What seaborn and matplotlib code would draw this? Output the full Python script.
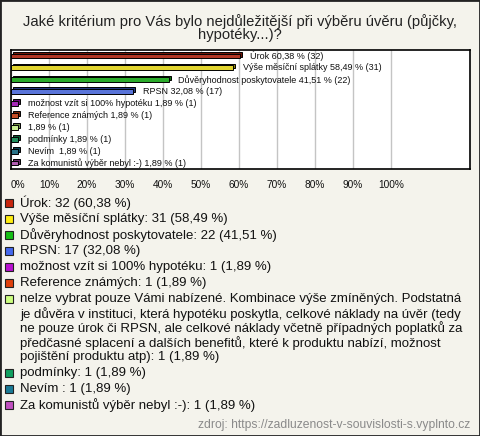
import numpy as np
import pandas as pd
import matplotlib
matplotlib.use("Agg")
import matplotlib.pyplot as plt
import matplotlib.patheffects as pe
from matplotlib.patches import Rectangle
from matplotlib.colors import to_rgb
import seaborn as sns

# ---------------- data ----------------
title_text = "Jaké kritérium pro Vás bylo nejdůležitější při výběru úvěru (půjčky,\nhypotéky...)?"
categories = [
    "Úrok",
    "Výše měsíční splátky",
    "Důvěryhodnost poskytovatele",
    "RPSN",
    "možnost vzít si 100% hypotéku",
    "Reference známých",
    "nelze vybrat pouze Vámi nabízené. Kombinace výše zmíněných. Podstatná je důvěra v instituci, která hypotéku poskytla, celkové náklady na úvěr (tedy ne pouze úrok či RPSN, ale celkové náklady včetně případných poplatků za předčasné splacení a dalších benefitů, které k produktu nabízí, možnost pojištění produktu atp)",
    "podmínky",
    "Nevím ",
    "Za komunistů výběr nebyl :-)",
]
counts = [32, 31, 22, 17, 1, 1, 1, 1, 1, 1]
percents = [60.38, 58.49, 41.51, 32.08, 1.89, 1.89, 1.89, 1.89, 1.89, 1.89]
bar_names = ["Úrok", "Výše měsíční splátky", "Důvěryhodnost poskytovatele", "RPSN",
             "možnost vzít si 100% hypotéku", "Reference známých", "",
             "podmínky", "Nevím ", "Za komunistů výběr nebyl :-)"]
colors = ["#c8260e", "#ffee11", "#16c016", "#4468ee", "#b810d0",
          "#e0400c", "#ccff80", "#10a060", "#1a7a96", "#c050c0"]
tick_values = list(range(0, 101, 10))
tick_labels = [f"{v}%" for v in tick_values]
source_text = "zdroj: https://zadluzenost-v-souvislosti-s.vyplnto.cz"


def fmt(v):
    return f"{v:.2f}".replace(".", ",")


df = pd.DataFrame({"category": categories, "percent": percents, "count": counts})

# ---------------- figure ----------------
W, H = 480, 436
BG = "#f4f3ec"
sns.set_theme(style="white")
plt.rcParams["font.family"] = ["Liberation Sans", "DejaVu Sans"]

fig = plt.figure(figsize=(W / 100, H / 100), dpi=100, facecolor=BG)


def fx(px):
    return px / W


def fy(py):
    return 1 - py / H


ax = fig.add_axes([fx(11), fy(169), fx(459), 119 / H])
ax.set_facecolor("white")

sns.barplot(data=df, x="percent", y="category", hue="category", palette=colors,
            orient="h", width=0.4, edgecolor="black", linewidth=0.7,
            legend=False, ax=ax, zorder=3)

# 3D-ish shadow effect on bars
for cont, col in zip(ax.containers, colors):
    r, g, b = to_rgb(col)
    dark = (r * 0.55, g * 0.55, b * 0.55)
    for p in cont:
        p.set_path_effects([
            pe.PathPatchEffect(offset=(1.3, 1.3), facecolor=dark, edgecolor="black", linewidth=0.7),
            pe.Normal(),
        ])

# bar labels
for cont, name, pct, cnt in zip(ax.containers, bar_names, percents, counts):
    lab = (f"{name} " if name else "") + f"{fmt(pct)} % ({cnt})"
    ax.bar_label(cont, labels=[lab], padding=7, fontsize=6.5, color="#111111")

ax.set_xlim(0, 120.8)
ax.set_xticks(tick_values)
ax.set_xticklabels(tick_labels)
ax.tick_params(axis="x", length=0, pad=8, labelsize=7.3, colors="#111111")
ax.get_xticklabels()[0].set_ha("left")
ax.set_yticks([])
ax.set_xlabel("")
ax.set_ylabel("")
ax.xaxis.grid(True, color="#c4c4c4", linewidth=1)
ax.set_axisbelow(True)
for s in ax.spines.values():
    s.set_visible(True)
    s.set_color("black")
    s.set_linewidth(1.2)

# title
fig.text(0.5, fy(28), title_text, ha="center", va="center", fontsize=10.6,
         color="#222222", linespacing=0.95)

# ---------------- legend (manual, with wrapping) ----------------
renderer = fig.canvas.get_renderer()
FS = 9.5
MAXW = 470 - 20


def text_w(s):
    t = fig.text(0, 0, s, fontsize=FS)
    w = t.get_window_extent(renderer=renderer).width
    t.remove()
    return w


def wrap(s):
    words = s.split(" ")
    lines, cur = [], ""
    for w in words:
        cand = w if cur == "" else cur + " " + w
        if text_w(cand) <= MAXW:
            cur = cand
        else:
            lines.append(cur)
            cur = w
    lines.append(cur)
    return lines


y = 203.0
for cat, cnt, pct, col in zip(categories, counts, percents, colors):
    label = f"{cat}: {cnt} ({fmt(pct)} %)"
    lines = wrap(label)
    fig.add_artist(Rectangle((fx(5), fy(y + 4)), fx(8), 8 / H, facecolor=col,
                             edgecolor="#222222", linewidth=0.8, transform=fig.transFigure))
    for i, ln in enumerate(lines):
        fig.text(fx(20), fy(y + i * 14.6), ln, ha="left", va="center",
                 fontsize=FS, color="#111111")
    y += (len(lines) - 1) * 14.6 + 16

fig.text(fx(470), fy(425), source_text, ha="right", va="center", fontsize=8.7,
         color="#8a8a8a")

# outer border
fig.add_artist(Rectangle((0, 0), 1, 1, transform=fig.transFigure, fill=False,
                         edgecolor="#222222", linewidth=2.0))

fig.savefig("out.png", dpi=100, facecolor=BG)
